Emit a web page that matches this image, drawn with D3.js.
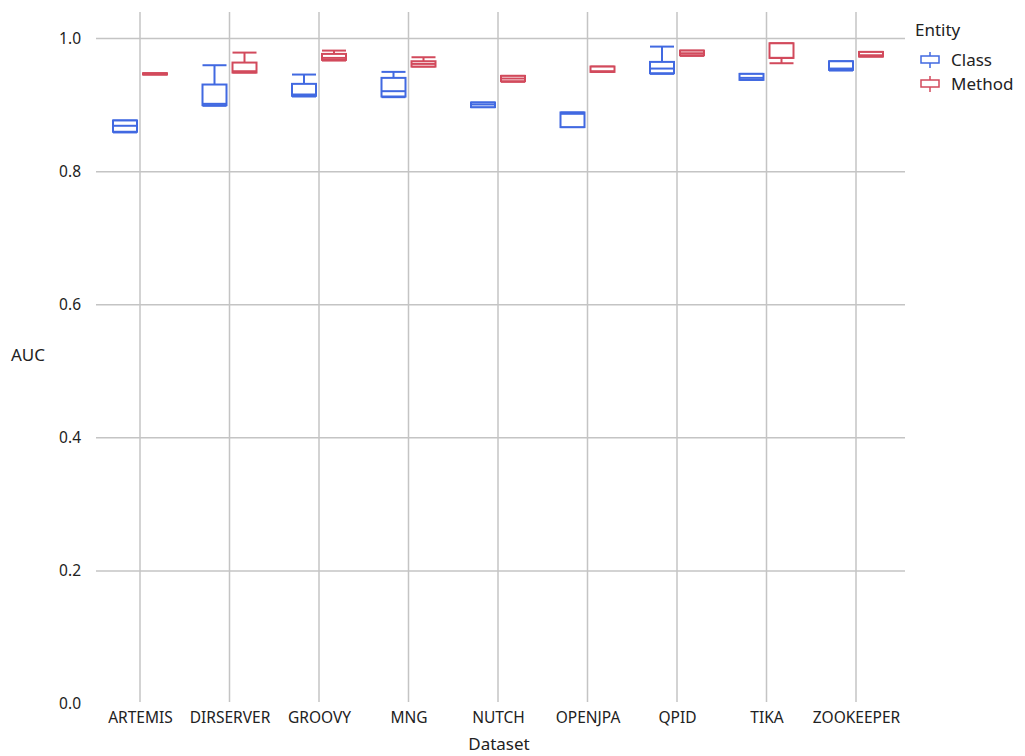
<!DOCTYPE html>
<html>
<head>
<meta charset="utf-8">
<script src="https://cdn.jsdelivr.net/npm/d3@7"></script>
<style>
  body { margin: 0; background: #fff; }
  text { font-family: "Noto Sans", "Open Sans", sans-serif; fill: #222; }
</style>
</head>
<body>
<svg width="1025" height="756"></svg>
<script>
// datasets on the x axis
const categories = ["ARTEMIS", "DIRSERVER", "GROOVY", "MNG", "NUTCH", "OPENJPA", "QPID", "TIKA", "ZOOKEEPER"];
const entities = ["Class", "Method"];
const yTicks = [0, 0.2, 0.4, 0.6, 0.8, 1.0];

// box stats per dataset: [min, q1, median, q3, max]
const classStats = [
  [0.859, 0.860, 0.869, 0.877, 0.877],
  [0.899, 0.900, 0.902, 0.931, 0.960],
  [0.913, 0.914, 0.916, 0.932, 0.946],
  [0.912, 0.913, 0.921, 0.941, 0.950],
  [0.897, 0.897, 0.901, 0.904, 0.904],
  [0.867, 0.867, 0.887, 0.889, 0.889],
  [0.947, 0.948, 0.955, 0.965, 0.988],
  [0.938, 0.938, 0.941, 0.947, 0.947],
  [0.952, 0.953, 0.955, 0.966, 0.966]
];
const methodStats = [
  [0.946, 0.946, 0.947, 0.948, 0.948],
  [0.949, 0.949, 0.951, 0.964, 0.979],
  [0.967, 0.968, 0.971, 0.977, 0.982],
  [0.958, 0.958, 0.962, 0.966, 0.972],
  [0.935, 0.936, 0.940, 0.944, 0.944],
  [0.950, 0.950, 0.951, 0.958, 0.958],
  [0.974, 0.975, 0.978, 0.982, 0.982],
  [0.963, 0.971, 0.971, 0.993, 0.993],
  [0.973, 0.973, 0.975, 0.980, 0.980]
];

const colors = { Class: "#4169e1", Method: "#d24a5c" };

const rows = [];
categories.forEach((c, i) => {
  [["Class", classStats[i]], ["Method", methodStats[i]]].forEach(([e, s]) => {
    rows.push({ dataset: c, entity: e, min: s[0], q1: s[1], med: s[2], q3: s[3], max: s[4] });
  });
});

const svg = d3.select("svg");
const plot = { left: 96, right: 905, top: 12, bottom: 704 };

const x = d3.scalePoint().domain(categories).range([140, 856]);
const xSub = d3.scaleBand().domain(entities).range([-27, 27]).paddingInner(0.2);
const y = d3.scaleLinear().domain([0, 1.04]).range([plot.bottom, plot.top]);

const grid = svg.append("g").attr("class", "grid");
grid.selectAll(".hline")
  .data(yTicks.filter(d => d > 0))
  .enter()
  .append("line")
  .attr("x1", plot.left).attr("x2", plot.right)
  .attr("y1", d => y(d)).attr("y2", d => y(d))
  .attr("stroke", "#c4c4c4").attr("stroke-width", 1.5);
grid.selectAll(".vline")
  .data(categories)
  .enter()
  .append("line")
  .attr("x1", d => x(d)).attr("x2", d => x(d))
  .attr("y1", plot.top).attr("y2", plot.bottom - 2)
  .attr("stroke", "#c4c4c4").attr("stroke-width", 1.5);

// axes, just labels
const yAxis = svg.append("g")
  .attr("transform", `translate(${plot.left},0)`)
  .call(d3.axisLeft(y).tickValues(yTicks).tickFormat(d3.format(".1f")).tickSize(0).tickPadding(15));
yAxis.select(".domain").remove();
yAxis.selectAll("text").style("font-size", "15.5px").style("font-family", "Noto Sans").attr("fill", "#222");

const xAxis = svg.append("g")
  .attr("transform", `translate(0,${plot.bottom + 2})`)
  .call(d3.axisBottom(x).tickSize(0).tickPadding(6));
xAxis.select(".domain").remove();
xAxis.selectAll("text").style("font-size", "15.5px").style("font-family", "Noto Sans").attr("fill", "#222");

svg.append("text").attr("x", 28).attr("y", 361).attr("text-anchor", "middle")
  .style("font-size", "17px").text("AUC");
svg.append("text").attr("x", 499).attr("y", 750).attr("text-anchor", "middle")
  .style("font-size", "17px").text("Dataset");

// boxes
const bw = xSub.bandwidth();
const boxes = svg.append("g").selectAll(".box")
  .data(rows)
  .enter()
  .append("g")
  .attr("transform", d => `translate(${x(d.dataset) + xSub(d.entity)},0)`)
  .attr("stroke", d => colors[d.entity])
  .attr("stroke-width", 2)
  .attr("fill", "none");

boxes.append("line").attr("x1", bw / 2).attr("x2", bw / 2)
  .attr("y1", d => y(d.max)).attr("y2", d => y(d.q3));
boxes.append("line").attr("x1", bw / 2).attr("x2", bw / 2)
  .attr("y1", d => y(d.q1)).attr("y2", d => y(d.min));
boxes.append("line").attr("x1", 0).attr("x2", bw)
  .attr("y1", d => y(d.max)).attr("y2", d => y(d.max));
boxes.append("line").attr("x1", 0).attr("x2", bw)
  .attr("y1", d => y(d.min)).attr("y2", d => y(d.min));
boxes.append("rect")
  .attr("x", 0).attr("width", bw)
  .attr("y", d => y(d.q3))
  .attr("height", d => Math.max(0.5, y(d.q1) - y(d.q3)))
  .attr("fill", "#fff");
boxes.append("line").attr("x1", 0).attr("x2", bw)
  .attr("y1", d => y(d.med)).attr("y2", d => y(d.med));

// legend
const legend = svg.append("g").attr("transform", "translate(915,0)");
legend.append("text").attr("x", 0).attr("y", 36).style("font-size", "17px").text("Entity");
entities.forEach((e, i) => {
  const g = legend.append("g").attr("transform", `translate(0,${60 + i * 24})`)
    .attr("stroke", colors[e]).attr("stroke-width", 1.5).attr("fill", "none");
  g.append("line").attr("x1", 15).attr("x2", 15).attr("y1", -8).attr("y2", 8);
  g.append("rect").attr("x", 6).attr("y", -4).attr("width", 18).attr("height", 7).attr("fill", "#fff");
  legend.append("text").attr("x", 36).attr("y", 66 + i * 24).style("font-size", "17px").text(e);
});
</script>
</body>
</html>
